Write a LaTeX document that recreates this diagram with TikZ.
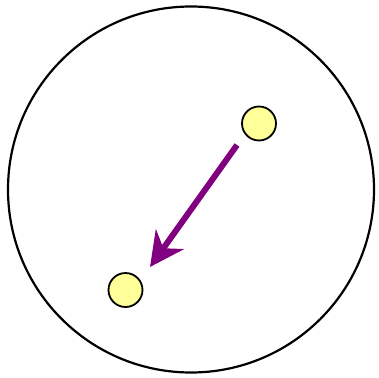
\documentclass[tikz,border=0pt]{standalone}
\usetikzlibrary{arrows.meta}
\definecolor{dotfill}{RGB}{255,255,153}
\definecolor{arrowpurple}{RGB}{128,0,128}
\begin{document}
\begin{tikzpicture}[x=1pt,y=-1pt,
  dot/.style={circle,draw=black,line width=1.8pt,fill=dotfill,minimum size=34pt,inner sep=0pt},
  outer/.style={circle,draw=black,line width=2.2pt,minimum size=366pt,inner sep=0pt},
  move/.style={draw=arrowpurple,line width=6pt,-{Stealth[length=34pt,width=34pt,inset=11pt]}}]
\useasboundingbox (0,0) rectangle (379,377);
\node[outer] (cell) at (191,189.5) {};
\node[dot] (a) at (259,123.5) {};
\node[dot] (b) at (125.5,290) {};
\coordinate (s) at (237,145);
\coordinate (t) at (150,267);
\draw[move] (s) -- (t);
\end{tikzpicture}
\end{document}
